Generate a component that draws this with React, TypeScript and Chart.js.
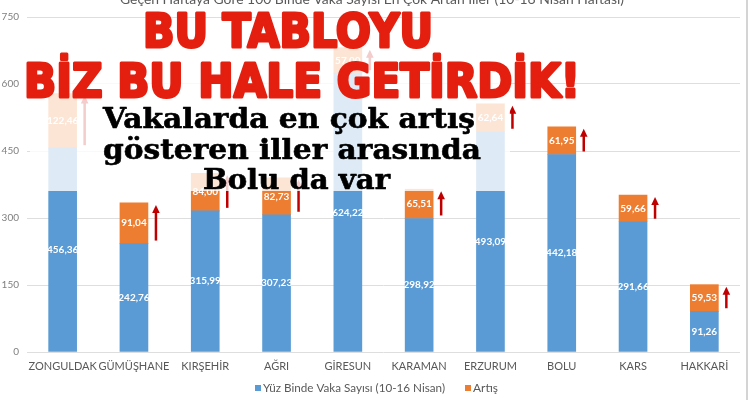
import React, { useEffect, useRef } from "react";
import { Chart, registerables } from "chart.js";

Chart.register(...registerables);

const categories = ["ZONGULDAK", "GÜMÜŞHANE", "KIRŞEHİR", "AĞRI", "GİRESUN", "KARAMAN", "ERZURUM", "BOLU", "KARS", "HAKKARİ"];
const weeklyCases = [456.36, 242.76, 315.99, 307.23, 624.22, 298.92, 493.09, 442.18, 291.66, 91.26];
const increase = [122.46, 91.04, 84.0, 82.73, 57.0, 65.51, 62.64, 61.95, 59.66, 59.53];
const yMax = 750;
const yStep = 150;
const seriesNames = ["Yüz Binde Vaka Sayısı (10-16 Nisan)", "Artış"];
const chartTitle = "Geçen Haftaya Göre 100 Binde Vaka Sayısı En Çok Artan İller (10-16 Nisan Haftası)";
const headline = ["BU TABLOYU", "BİZ BU HALE GETİRDİK!"];
const subhead = ["Vakalarda en çok artış", "gösteren iller arasında", "Bolu da var"];

const BLUE = "#5b9bd5";
const ORANGE = "#ed7d31";
const GRAY = "#595959";

function fmt(v: number) {
  return v.toFixed(2).replace(".", ",");
}

function drawFitted(ctx: CanvasRenderingContext2D, text: string, font: string, left: number, baseline: number, width: number, color: string, stroke = 0) {
  ctx.save();
  ctx.font = font;
  ctx.textAlign = "left";
  ctx.textBaseline = "alphabetic";
  const w = ctx.measureText(text).width;
  const sx = width / w;
  ctx.translate(left, baseline);
  ctx.scale(sx, 1);
  ctx.fillStyle = color;
  ctx.fillText(text, 0, 0);
  if (stroke > 0) {
    ctx.strokeStyle = color;
    ctx.lineWidth = stroke;
    ctx.lineJoin = "round";
    ctx.strokeText(text, 0, 0);
  }
  ctx.restore();
}

const bgPlugin = {
  id: "bg",
  beforeDraw(chart: any) {
    const ctx = chart.ctx;
    ctx.save();
    ctx.fillStyle = "#ffffff";
    ctx.fillRect(0, 0, chart.width, chart.height);
    ctx.restore();
  },
};

const labelsPlugin = {
  id: "valueLabels",
  afterDatasetsDraw(chart: any) {
    const ctx = chart.ctx;
    ctx.save();
    ctx.font = "bold 10px Lato";
    ctx.fillStyle = "#ffffff";
    ctx.textAlign = "center";
    ctx.textBaseline = "middle";
    chart.data.datasets.forEach((ds: any, di: number) => {
      const meta = chart.getDatasetMeta(di);
      meta.data.forEach((el: any, i: number) => {
        ctx.fillText(fmt(ds.data[i]), el.x, (el.y + el.base) / 2);
      });
    });
    // arrows next to increase segments
    const meta = chart.getDatasetMeta(1);
    ctx.strokeStyle = "#c00000";
    ctx.fillStyle = "#c00000";
    ctx.lineWidth = 2.5;
    meta.data.forEach((el: any) => {
      const x = el.x + 22;
      const top = el.y + 2;
      const bottom = el.base - 3;
      ctx.beginPath();
      ctx.moveTo(x, top + 6);
      ctx.lineTo(x, bottom);
      ctx.stroke();
      ctx.beginPath();
      ctx.moveTo(x, top);
      ctx.lineTo(x - 3.8, top + 8);
      ctx.lineTo(x + 3.8, top + 8);
      ctx.closePath();
      ctx.fill();
    });
    ctx.restore();
  },
};

const overlayPlugin = {
  id: "overlay",
  afterDraw(chart: any) {
    const ctx = chart.ctx;
    ctx.save();
    // chart title (cut off at the top)
    drawFitted(ctx, chartTitle, "14px Lato", 120, 4, 504, GRAY);
    // right frame line
    ctx.fillStyle = "#d4d4d4";
    ctx.fillRect(746, 0, 2, 400);
    // legend
    ctx.fillStyle = BLUE;
    ctx.fillRect(255, 385, 6, 6);
    ctx.fillStyle = ORANGE;
    ctx.fillRect(465, 385, 6, 6);
    drawFitted(ctx, seriesNames[0], "12px Lato", 263, 392, 182, GRAY);
    drawFitted(ctx, seriesNames[1], "12px Lato", 473, 392, 25, GRAY);
    // white translucent box behind headline
    ctx.fillStyle = "rgba(255,255,255,0.8)";
    ctx.fillRect(30, 28, 480, 163);
    // red headline
    const red = "#e41f10";
    drawFitted(ctx, headline[0], "bold 46px 'DejaVu Sans'", 143, 47, 290, red, 3);
    drawFitted(ctx, headline[1], "bold 46px 'DejaVu Sans'", 24, 97, 556, red, 3);
    // black serif subheadline
    drawFitted(ctx, subhead[0], "bold 27px 'DejaVu Serif'", 103, 128, 372, "#000000", 0.6);
    drawFitted(ctx, subhead[1], "bold 27px 'DejaVu Serif'", 103, 159, 378, "#000000", 0.6);
    drawFitted(ctx, subhead[2], "bold 27px 'DejaVu Serif'", 203, 189, 187, "#000000", 0.6);
    ctx.restore();
  },
};

export default function App() {
  const ref = useRef<HTMLCanvasElement | null>(null);
  useEffect(() => {
    let chart: Chart | null = null;
    let cancelled = false;
    const fonts = ["12px Lato", "bold 10px Lato", "bold 46px 'DejaVu Sans'", "bold 27px 'DejaVu Serif'"];
    Promise.all(fonts.map((f) => document.fonts.load(f).catch(() => null))).then(() => {
      if (cancelled || !ref.current) return;
      chart = new Chart(ref.current, {
        type: "bar",
        data: {
          labels: categories,
          datasets: [
            { label: seriesNames[0], data: weeklyCases, backgroundColor: BLUE, barThickness: 28, stack: "s" },
            { label: seriesNames[1], data: increase, backgroundColor: ORANGE, barThickness: 28, stack: "s" },
          ],
        },
        options: {
          animation: false,
          responsive: false,
          devicePixelRatio: 1,
          layout: { padding: { top: 17, right: 10, left: 0, bottom: 0 } },
          plugins: { legend: { display: false }, title: { display: false }, tooltip: { enabled: false } },
          scales: {
            x: {
              stacked: true,
              grid: { display: false, drawTicks: false },
              border: { display: false },
              ticks: { font: { family: "Lato", size: 11 }, color: GRAY, padding: 8, autoSkip: false, maxRotation: 0 },
              afterFit: (s: any) => { s.height = 48; },
            },
            y: {
              stacked: true,
              min: 0,
              max: yMax,
              ticks: { stepSize: yStep, font: { family: "Lato", size: 10 }, color: "#7f7f7f", padding: 8 },
              grid: { color: "#dedede", drawTicks: false },
              border: { display: false },
              afterFit: (s: any) => { s.width = 27; },
            },
          },
        },
        plugins: [bgPlugin, labelsPlugin, overlayPlugin],
      } as any);
    });
    return () => {
      cancelled = true;
      if (chart) chart.destroy();
    };
  }, []);
  return (
    <div style={{ position: "absolute", left: 0, top: 0, width: 750, height: 400, background: "#fff" }}>
      <canvas ref={ref} width={750} height={400} style={{ display: "block" }} />
    </div>
  );
}
